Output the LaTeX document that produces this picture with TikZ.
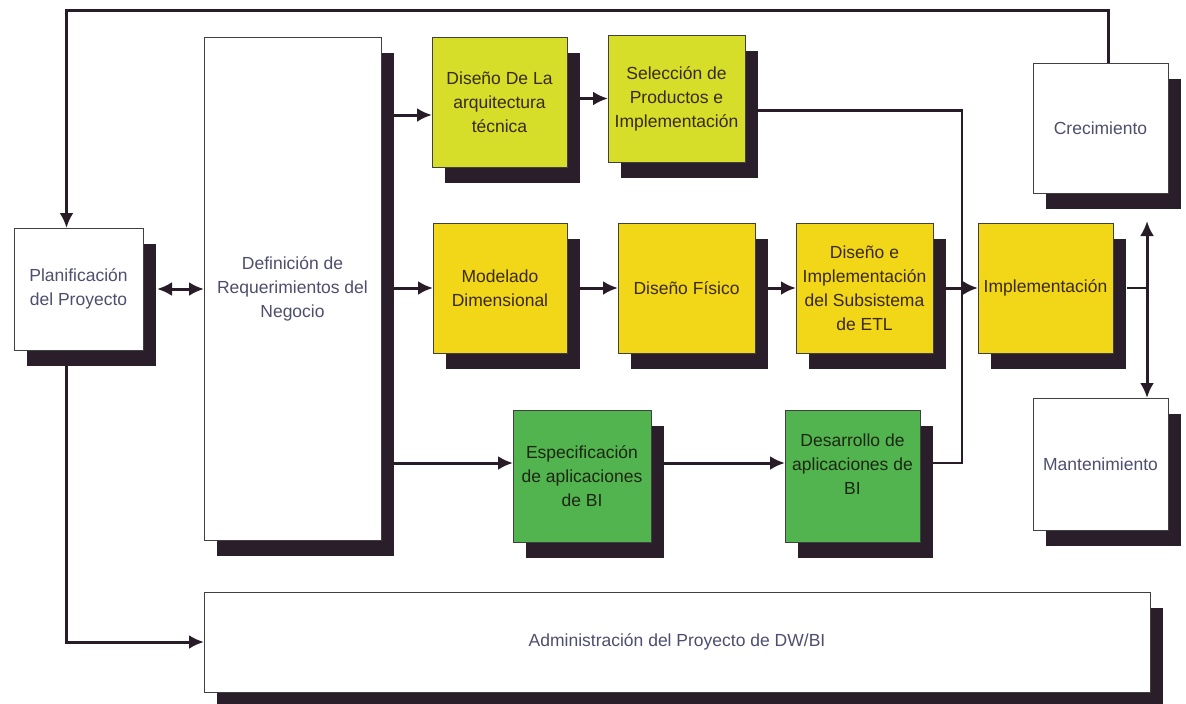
\documentclass[tikz,border=0pt]{standalone}
\usepackage{fontspec}
\setmainfont{Liberation Sans}
\usetikzlibrary{shadows,arrows.meta,calc,backgrounds}

\definecolor{shd}{RGB}{42,30,42}
\definecolor{lime}{RGB}{214,222,42}
\definecolor{gold}{RGB}{242,214,24}
\definecolor{leaf}{RGB}{82,180,78}
\definecolor{inkw}{RGB}{78,78,110}
\definecolor{inky}{RGB}{58,42,18}
\definecolor{inkg}{RGB}{30,38,20}
\definecolor{wire}{RGB}{40,28,40}

\tikzset{
  blk/.style={draw=black!75, line width=1pt, anchor=north west,
    inner sep=0pt, outer sep=0pt, align=center,
    font=\fontsize{17.5}{24}\selectfont,
    drop shadow={shadow xshift=13pt, shadow yshift=-16pt, fill=shd, opacity=1}},
  wbox/.style={blk, fill=white, text=inkw},
  lbox/.style={blk, fill=lime, text=inky},
  ybox/.style={blk, fill=gold, text=inky},
  gbox/.style={blk, fill=leaf, text=inkg},
  wirestyle/.style={draw=wire, line width=3pt},
  joinstyle/.style={draw=wire, line width=2.4pt},
  arr/.style={wirestyle, -{Latex[length=15pt,width=14pt]}},
  biarr/.style={wirestyle, {Latex[length=15pt,width=14pt]}-{Latex[length=15pt,width=14pt]}},
}

\begin{document}
\begin{tikzpicture}[x=1pt,y=-1pt]
\useasboundingbox (0,0) rectangle (1186,704);

% boxes
\node[wbox, minimum width=129, minimum height=122] (plan) at (14,228) {Planificación\\del Proyecto};
\node[wbox, minimum width=177, minimum height=503] (def) at (204,37) {Definición de\\Requerimientos del\\Negocio};
\node[lbox, minimum width=135, minimum height=130] (arq) at (432,37) {Diseño De La\\arquitectura\\técnica};
\node[lbox, minimum width=137, minimum height=127] (sel) at (608,35) {Selección de\\Productos e\\Implementación};
\node[ybox, minimum width=134, minimum height=130] (mod) at (433,223) {Modelado\\Dimensional};
\node[ybox, minimum width=137, minimum height=130] (fis) at (618,223) {Diseño Físico};
\node[ybox, minimum width=137, minimum height=130] (etl) at (796,223) {Diseño e\\Implementación\\del Subsistema\\de ETL};
\node[ybox, minimum width=135, minimum height=130] (impl) at (978,223) {Implementación};
\node[wbox, minimum width=135, minimum height=130] (crec) at (1033,63) {Crecimiento};
\node[wbox, minimum width=135, minimum height=132] (mant) at (1033,398) {Mantenimiento};
\node[gbox, minimum width=138, minimum height=132] (esp) at (513,410) {Especificación\\de aplicaciones\\de BI};
\node[gbox, minimum width=135, minimum height=132] (des) at (785,410) {Desarrollo de\\aplicaciones de\\BI\\\mbox{}};
\node[wbox, minimum width=946, minimum height=100] (admin) at (204,592) {Administración del Proyecto de DW/BI};

% connectors, kept behind the boxes and their shadows
\begin{scope}[on background layer]
  \fill[white] (0,0) rectangle (1186,704);

  % feedback from Crecimiento to the planning step
  \draw[arr] ($(crec.north)+(8,0)$) -- ++(0,-53) -| ($(plan.north)+(-12,0)$);

  % planning <-> requirements
  \draw[biarr] ($(plan.east)+(14,0)$) -- (def.west |- plan.east);

  % requirements feed the three tracks
  \coordinate (defR) at ($(def.east)+(13,0)$);
  \coordinate (aIn) at ($(arq.west)+(0,13)$);
  \coordinate (eIn) at ($(esp.north west)+(0,53)$);
  \draw[arr] (defR |- aIn) -- (aIn);
  \draw[arr] (defR |- mod.west) -- (mod.west);
  \draw[arr] (defR |- eIn) -- (eIn);

  % technology track
  \coordinate (arqR) at ($(arq.east)+(13,0)$);
  \draw[arr] (arqR |- sel.west) -- (sel.west);

  % data track
  \draw[arr] ($(mod.east)+(13,0)$) -- (fis.west);
  \draw[arr] ($(fis.east)+(13,0)$) -- (etl.west);
  \draw[arr] ($(etl.east)+(13,0)$) -- (impl.west);

  % BI application track
  \coordinate (espR) at ($(esp.east)+(13,0)$);
  \draw[arr] (espR |- eIn) -- (des.west |- eIn);

  % technology and BI tracks join the deployment arrow
  \coordinate (jn) at ($(etl.east)+(29,0)$);
  \coordinate (desR) at ($(des.east)+(13,0)$);
  \draw[joinstyle] ($(sel.east)+(13,12)$) -| (jn);
  \draw[joinstyle] (desR |- eIn) -| (jn);

  % deployment leads to growth and maintenance
  \coordinate (vj) at ($(impl.east)+(34,0)$);
  \coordinate (crecB) at ($(crec.south)+(0,28)$);
  \draw[joinstyle] ($(impl.east)+(14,0)$) -- (vj);
  \draw[arr] (vj) -- (vj |- crecB);
  \draw[arr] (vj) -- (vj |- mant.north);

  % planning to project management
  \draw[arr] ($(plan.south)+(-12,0)$) |- (admin.west);
\end{scope}
\end{tikzpicture}
\end{document}
